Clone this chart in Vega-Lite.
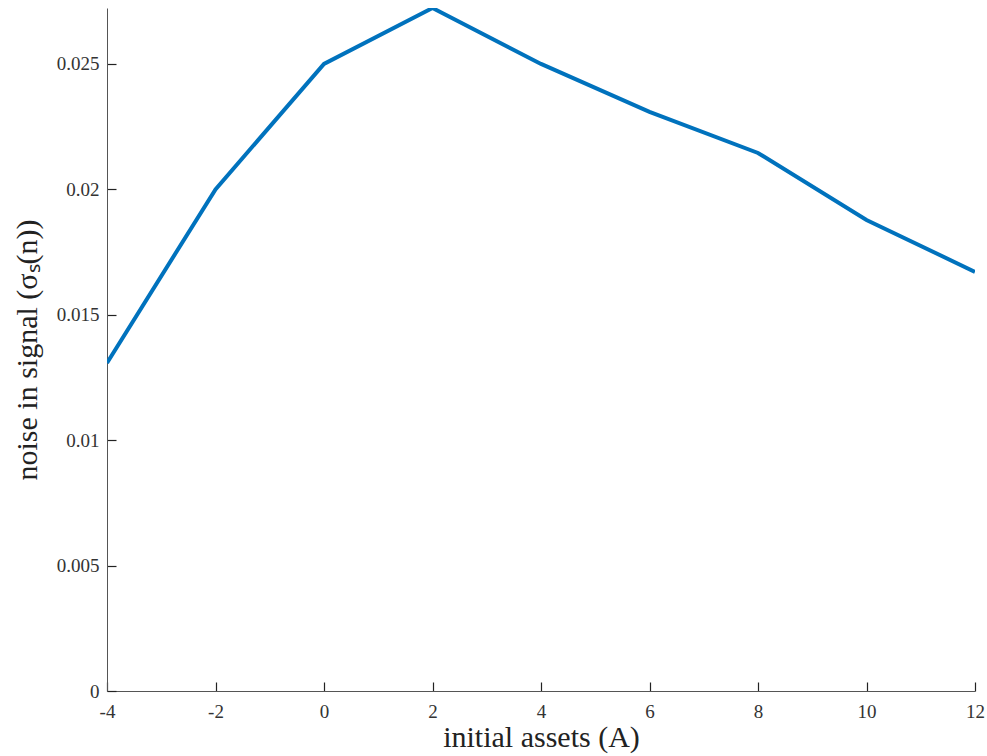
{
  "$schema": "https://vega.github.io/schema/vega-lite/v6.json",
  "width": 868,
  "height": 683,
  "autosize": "none",
  "padding": {"left": 107, "top": 8, "right": 12, "bottom": 65},
  "background": "white",
  "config": {
    "view": {"stroke": null},
    "font": "Liberation Serif",
    "axis": {
      "grid": false,
      "domainColor": "#555555",
      "domainWidth": 1,
      "tickColor": "#222222",
      "tickWidth": 1.2,
      "tickSize": -9,
      "labelFont": "Liberation Serif",
      "labelFontSize": 19,
      "labelColor": "#333333",
      "titleFont": "Liberation Serif",
      "titleFontSize": 30,
      "titleFontWeight": "normal",
      "titleColor": "#222222"
    }
  },
  "data": {
    "values": [
      {"A": -4, "s": 0.01308},
      {"A": -2, "s": 0.0200},
      {"A": 0, "s": 0.0250},
      {"A": 2, "s": 0.02723},
      {"A": 4, "s": 0.0250},
      {"A": 6, "s": 0.02309},
      {"A": 8, "s": 0.02145},
      {"A": 10, "s": 0.01878},
      {"A": 12, "s": 0.01671}
    ]
  },
  "mark": {"type": "line", "color": "#0072BD", "strokeWidth": 4, "clip": true},
  "encoding": {
    "x": {
      "field": "A",
      "type": "quantitative",
      "scale": {"domain": [-4, 12], "nice": false, "zero": false},
      "axis": {"values": [-4, -2, 0, 2, 4, 6, 8, 10, 12], "labelExpr": "toString(datum.value)", "title": "initial assets (A)", "labelPadding": 20, "titlePadding": 1, "labelFlush": false}
    },
    "y": {
      "field": "s",
      "type": "quantitative",
      "scale": {"domain": [0, 0.02723], "nice": false},
      "axis": {"values": [0, 0.005, 0.01, 0.015, 0.02, 0.025], "format": "~g", "title": "noise in signal (σₛ(n))", "labelPadding": 17, "titlePadding": 14}
    }
  }
}
